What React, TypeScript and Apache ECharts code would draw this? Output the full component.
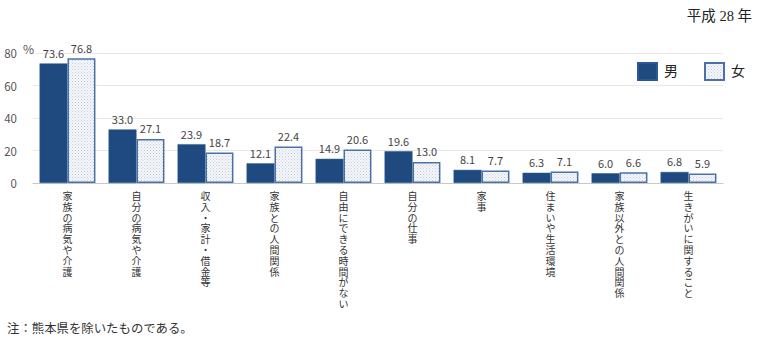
import React, { useEffect, useRef } from "react";
import * as echarts from "echarts";

const categories = [
  "家族の病気や介護",
  "自分の病気や介護",
  "収入・家計・借金等",
  "家族との人間関係",
  "自由にできる時間がない",
  "自分の仕事",
  "家事",
  "住まいや生活環境",
  "家族以外との人間関係",
  "生きがいに関すること",
];
const maleValues = [73.6, 33.0, 23.9, 12.1, 14.9, 19.6, 8.1, 6.3, 6.0, 6.8];
const femaleValues = [76.8, 27.1, 18.7, 22.4, 20.6, 13.0, 7.7, 7.1, 6.6, 5.9];
const yTicks = { min: 0, max: 80, interval: 20 };
const seriesNames = ["男", "女"];
const titleText = "平成 28 年";
const noteText = "注：熊本県を除いたものである。";
const unitText = "%";

function makeDotPattern() {
  const c = document.createElement("canvas");
  c.width = 3;
  c.height = 3;
  const ctx = c.getContext("2d");
  if (ctx) {
    ctx.fillStyle = "#f7f8fb";
    ctx.fillRect(0, 0, 3, 3);
    ctx.fillStyle = "#c3ccd9";
    ctx.fillRect(0, 0, 1, 1);
    ctx.fillRect(1.5, 1.5, 1, 1);
  }
  return c;
}

export default function App() {
  const ref = useRef<HTMLDivElement>(null);
  useEffect(() => {
    if (!ref.current) return;
    const chart = echarts.init(ref.current, undefined, { renderer: "svg" });
    const pattern = makeDotPattern();
    const font = "'Noto Sans CJK JP', sans-serif";
    const serif = "'Liberation Serif', 'Noto Sans CJK JP', serif";
    chart.setOption({
      animation: false,
      backgroundColor: "#ffffff",
      textStyle: { fontFamily: font },
      grid: { left: 33, right: 37, top: 53, bottom: 168, containLabel: false },
      legend: {
        left: 632,
        top: 57,
        itemWidth: 19,
        itemHeight: 17,
        itemGap: 26,
        icon: "rect",
        textStyle: { fontSize: 14, fontFamily: serif, color: "#222", padding: [0, 0, 0, 2] },
        data: seriesNames,
      },
      graphic: [
        {
          type: "text",
          right: 8,
          top: 9,
          style: { text: titleText, fontSize: 14.5, fontFamily: serif, fill: "#222" },
        },
        {
          type: "text",
          left: 23,
          top: 42,
          style: { text: unitText, fontSize: 12, fontFamily: font, fill: "#555" },
        },
        {
          type: "text",
          left: 7,
          top: 323,
          style: { text: noteText, fontSize: 12.4, fontFamily: serif, fill: "#333" },
        },
      ],
      xAxis: {
        type: "category",
        data: categories,
        axisLine: { show: true, lineStyle: { color: "#c8c8c8", width: 1 } },
        axisTick: { show: false },
        axisLabel: {
          interval: 0,
          margin: 7,
          fontSize: 10,
          lineHeight: 10.8,
          color: "#333",
          verticalAlign: "top",
          formatter: (v: string) => v.split("").join("\n"),
        },
      },
      yAxis: {
        type: "value",
        min: yTicks.min,
        max: yTicks.max,
        interval: yTicks.interval,
        axisLine: { show: false },
        axisTick: { show: false },
        axisLabel: { fontSize: 11.5, color: "#555", margin: 16 },
        splitLine: { lineStyle: { color: "#e8e8e8", width: 1 } },
      },
      series: [
        {
          name: seriesNames[0],
          type: "bar",
          data: maleValues,
          barGap: "0%",
          barCategoryGap: "19%",
          itemStyle: { color: "#1f4a80", borderColor: "#2a5a94", borderWidth: 0.5 },
          label: {
            show: true,
            position: "top",
            distance: 5,
            fontSize: 11,
            color: "#444",
            formatter: (p: any) => p.value.toFixed(1),
          },
        },
        {
          name: seriesNames[1],
          type: "bar",
          data: femaleValues,
          barGap: "0%",
          barCategoryGap: "19%",
          itemStyle: {
            color: { image: pattern, repeat: "repeat", imageWidth: 3, imageHeight: 3 },
            borderColor: "#4a72a8",
            borderWidth: 1.5,
          },
          label: {
            show: true,
            position: "top",
            distance: 5,
            fontSize: 11,
            color: "#444",
            formatter: (p: any) => p.value.toFixed(1),
          },
        },
      ],
    });
    return () => chart.dispose();
  }, []);
  return (
    <div
      ref={ref}
      style={{ position: "fixed", left: 0, top: 0, width: 760, height: 351 }}
    />
  );
}
